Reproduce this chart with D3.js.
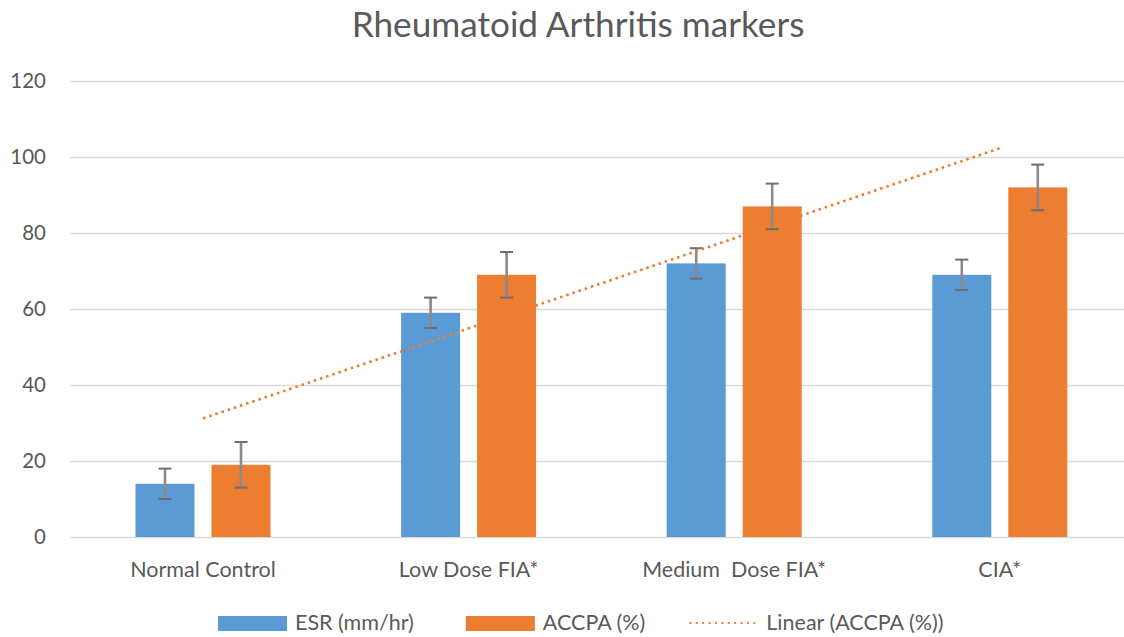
<!DOCTYPE html>
<html>
<head>
<meta charset="utf-8">
<script src="https://cdn.jsdelivr.net/npm/d3@7"></script>
<style>
  html, body { margin: 0; padding: 0; background: #fff; }
  svg { display: block; }
  text { font-family: Lato, "Open Sans", sans-serif; fill: #595959; }
</style>
</head>
<body>
<svg id="chart" width="1124" height="637"></svg>
<script>
// ---- data ----
const categories = ["Normal Control", "Low Dose FIA*", "Medium  Dose FIA*", "CIA*"];
const seriesNames = ["ESR (mm/hr)", "ACCPA (%)"];
const esrValues = [14, 59, 72, 69];
const esrErrors = [4, 4, 4, 4];
const accpaValues = [19, 69, 87, 92];
const accpaErrors = [6, 6, 6, 6];
const yTicks = [0, 20, 40, 60, 80, 100, 120];
const titleText = "Rheumatoid Arthritis markers";
const trendLabel = "Linear (ACCPA (%))";

const colors = { "ESR (mm/hr)": "#5B9BD5", "ACCPA (%)": "#ED7D31" };

const W = 1124, H = 637;
const svg = d3.select("#chart");

const x0 = d3.scaleBand().domain(categories).range([70.2, 1132.6]).padding(0);
const x1 = d3.scaleBand().domain(seriesNames).range([0, x0.bandwidth()])
  .paddingInner(0.2237).paddingOuter(0.859);
const y = d3.scaleLinear().domain([0, 120]).range([537, 81]);

// gridlines
svg.append("g").selectAll("line").data(yTicks).join("line")
  .attr("x1", 70).attr("x2", W)
  .attr("y1", d => Math.round(y(d)) + 0.5).attr("y2", d => Math.round(y(d)) + 0.5)
  .attr("stroke", "#D9D9D9").attr("stroke-width", 1.3);

// y axis via d3.axisLeft, styled
const yAxis = svg.append("g").attr("transform", "translate(46,0)")
  .call(d3.axisLeft(y).tickValues(yTicks).tickSize(0).tickPadding(0));
yAxis.select(".domain").remove();
yAxis.selectAll("text").attr("fill", "#595959").style("font-size", "20.5px")
  .style("font-family", "Lato, 'Open Sans', sans-serif");

// bars
const rows = categories.map((c, i) => [
  { cat: c, s: seriesNames[0], v: esrValues[i], e: esrErrors[i] },
  { cat: c, s: seriesNames[1], v: accpaValues[i], e: accpaErrors[i] }
]);
const groups = svg.append("g").selectAll("g").data(rows).join("g")
  .attr("transform", d => `translate(${x0(d[0].cat)},0)`);
groups.selectAll("rect").data(d => d).join("rect")
  .attr("x", d => x1(d.s)).attr("width", x1.bandwidth())
  .attr("y", d => y(d.v)).attr("height", d => y(0) - y(d.v))
  .attr("fill", d => colors[d.s]);

// error bars
const eb = groups.selectAll("g.err").data(d => d).join("g").attr("class", "err");
eb.append("line")
  .attr("x1", d => x1(d.s) + x1.bandwidth() / 2).attr("x2", d => x1(d.s) + x1.bandwidth() / 2)
  .attr("y1", d => y(d.v + d.e)).attr("y2", d => y(d.v - d.e))
  .attr("stroke", "#8a8a8a").attr("stroke-width", 2.6);
[1, -1].forEach(sign => {
  eb.append("line")
    .attr("x1", d => x1(d.s) + x1.bandwidth() / 2 - 6.5).attr("x2", d => x1(d.s) + x1.bandwidth() / 2 + 6.5)
    .attr("y1", d => y(d.v + sign * d.e)).attr("y2", d => y(d.v + sign * d.e))
    .attr("stroke", "#6e6e6e").attr("stroke-width", 2);
});

// linear trendline of ACCPA (least squares over category index 1..n)
const n = accpaValues.length;
const xs = accpaValues.map((_, i) => i + 1);
const mx = d3.mean(xs), my = d3.mean(accpaValues);
const slope = d3.sum(xs.map((xv, i) => (xv - mx) * (accpaValues[i] - my))) / d3.sum(xs.map(xv => (xv - mx) ** 2));
const intercept = my - slope * mx;
const trendPts = [1, n].map(k => [x0(categories[k - 1]) + x0.bandwidth() / 2, y(intercept + slope * k)]);
svg.append("path").attr("d", d3.line()(trendPts))
  .attr("fill", "none").attr("stroke", "#ED7D31").attr("stroke-width", 2.6)
  .attr("stroke-dasharray", "2.6 3.9");

// x labels
svg.append("g").selectAll("text").data(categories).join("text")
  .attr("x", d => x0(d) + x0.bandwidth() / 2).attr("y", 577)
  .attr("text-anchor", "middle").style("font-size", "21.5px")
  .style("white-space", "pre").attr("xml:space", "preserve")
  .text(d => d);

// title
const title = svg.append("text").attr("x", 578).attr("y", 37)
  .attr("text-anchor", "middle").style("font-size", "30px").text(titleText);
const tw = title.node().getComputedTextLength();
title.style("font-size", (30 * 453 / tw).toFixed(2) + "px");

// legend
const legendItems = [
  { label: seriesNames[0], type: "rect", color: colors[seriesNames[0]] },
  { label: seriesNames[1], type: "rect", color: colors[seriesNames[1]] },
  { label: trendLabel, type: "dot", color: "#ED7D31" }
];
const lg = svg.append("g");
let cx = 218;
const gaps = [52, 44];
legendItems.forEach((it, i) => {
  if (it.type === "rect") {
    lg.append("rect").attr("x", cx).attr("y", 616).attr("width", 69).attr("height", 15).attr("fill", it.color);
  } else {
    lg.append("line").attr("x1", cx).attr("x2", cx + 70).attr("y1", 623).attr("y2", 623)
      .attr("stroke", it.color).attr("stroke-width", 2).attr("stroke-dasharray", "2 4.4");
  }
  const t = lg.append("text").attr("x", cx + 77).attr("y", 630).style("font-size", "21.5px").text(it.label);
  cx = cx + 77 + t.node().getComputedTextLength() + (gaps[i] || 0);
});
</script>
</body>
</html>
